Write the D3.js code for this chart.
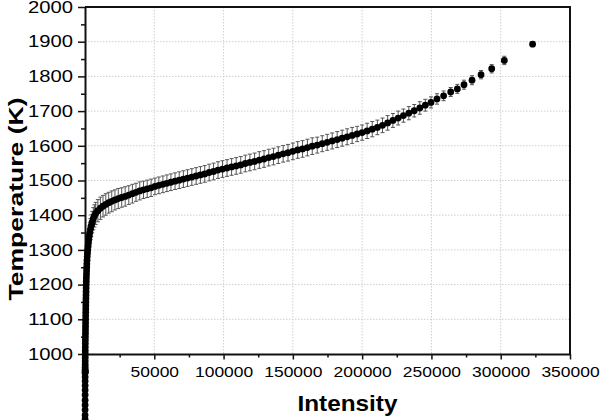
<!DOCTYPE html>
<html lang="en">
<head>
<meta charset="UTF-8">
<title>Temperature vs Intensity</title>
<style>
  body { margin: 0; background: #fff; }
  text { font-family: "Liberation Sans", Arial, sans-serif; fill: #000; }
</style>
</head>
<body>
<script src="https://d3js.org/d3.v7.min.js"></script>
<div id="chart"></div>
<script>

  // values: intensity, temperature (K), error (K)
  const intensity = [
    60, 60, 70, 70, 80, 80, 90, 90, 100, 100, 0, 300, 150, 100, 120, 140, 150, 170,
    180, 190, 200, 230, 260, 290, 320, 350, 380, 410, 440, 480, 520, 560, 600, 640,
    690, 730, 780, 830, 880, 930, 990, 1060, 1140, 1230, 1330, 1450, 1600, 1760, 1950,
    2200, 2450, 2750, 3100, 3500, 3950, 4500, 5200, 6000, 6800,
    7700, 9300, 11100, 13000, 15000, 17100, 19300, 21600, 24000, 26500, 29000, 31600,
    34200, 36800, 39500, 42200, 44900, 47700, 50500, 53300, 56200, 59100, 62000, 65000,
    68000, 71000, 74000, 77100, 80200, 83300, 86400, 89600, 92800, 96000, 99200, 102500,
    105800, 109100, 112400, 115700, 119000, 122400, 125800, 129200, 132600, 136000,
    139500, 143000, 146500, 150000, 153500, 157000, 160500, 164000, 167600, 171200,
    174800, 178400, 182000, 185600, 189200, 192800, 196400, 200000, 203600, 207300,
    211000, 214700, 218400, 222200, 226000, 229800, 233700, 237600, 241600, 245600,
    249700, 254000, 258800, 263900, 268700, 273500, 279300, 285800, 293500, 302600, 323000
  ];
  const temperature = [
    812, 824, 839, 853, 867, 882, 896, 909, 922, 934, 946, 948, 951, 955, 962, 970, 980, 990,
    1000, 1010, 1020, 1030, 1040, 1050, 1060, 1070, 1080, 1090, 1100, 1110, 1120, 1130, 1140, 1150,
    1160, 1170, 1180, 1190, 1200, 1210, 1220, 1230, 1240, 1250, 1260, 1270, 1280, 1290, 1300,
    1310, 1320, 1330, 1340, 1350, 1360, 1370, 1380, 1390, 1398,
    1405, 1413, 1420, 1426, 1431, 1436, 1440, 1444, 1448, 1451, 1454, 1458,
    1462, 1466, 1470, 1473, 1476, 1479, 1483, 1486, 1489, 1492, 1495, 1498,
    1501, 1504, 1507, 1510, 1513, 1516, 1519, 1523, 1526, 1530, 1533, 1536,
    1539, 1542, 1545, 1549, 1552, 1555, 1559, 1562, 1566, 1569,
    1573, 1577, 1580, 1584, 1588, 1591, 1595, 1599, 1602, 1606,
    1610, 1614, 1618, 1622, 1626, 1630, 1634, 1638, 1643, 1648,
    1653, 1659, 1666, 1673, 1680, 1687, 1694, 1701, 1709, 1717,
    1725, 1735, 1744, 1755, 1764, 1776, 1789, 1805, 1822, 1846, 1893
  ];
  const tempError = [
    15, 15, 15, 15, 15, 15, 15, 15, 15, 15, 15, 15, 15, 15, 15, 15, 15, 15,
    16, 16, 17, 17, 17, 18, 18, 18, 19, 19, 19, 20, 20, 20, 21, 21,
    21, 22, 22, 22, 23, 23, 23, 24, 24, 25, 25, 26, 26, 27, 27,
    28, 28, 29, 29, 30, 30, 31, 31, 32, 32,
    32, 32, 32, 31, 31, 30, 30, 29, 29, 28, 28, 27,
    27, 26, 26, 25, 25, 25, 24, 24, 24, 24, 24, 24,
    24, 24, 24, 24, 24, 24, 24, 24, 24, 24, 24, 24,
    24, 24, 24, 24, 24, 24, 24, 24, 24, 24,
    24, 24, 24, 24, 24, 24, 24, 24, 23, 23,
    23, 23, 23, 23, 23, 23, 22, 22, 22, 22,
    21, 21, 21, 20, 20, 19, 19, 18, 18, 17,
    16, 15, 14, 13, 13, 13, 13, 12, 12, 12, 6
  ];

  const xTicks = [50000, 100000, 150000, 200000, 250000, 300000, 350000];
  const xMinorTicks = [25000, 75000, 125000, 175000, 225000, 275000, 325000];
  const yTicks = [1000, 1100, 1200, 1300, 1400, 1500, 1600, 1700, 1800, 1900, 2000];
  const yMinorTicks = [1050, 1150, 1250, 1350, 1450, 1550, 1650, 1750, 1850, 1950];

  const xTitle = "Intensity";
  const yTitle = "Temperature (K)";

  function translate(x, y) { return 'translate(' + x + ',' + y + ')'; }

  let width = 600, height = 420;
  let plot = { left: 85, right: 570, top: 7, bottom: 354 };

  let svg = d3.select("#chart")
    .append("svg")
      .attr("width", width)
      .attr("height", height);

  let x = d3.scaleLinear()
    .domain([0, 350000])
    .range([plot.left, plot.right]);

  let y = d3.scaleLinear()
    .domain([1000, 2000])
    .range([plot.bottom, plot.top]);

  // dotted grid
  let grid = svg.append("g")
    .attr("stroke", "#cfcfcf")
    .attr("stroke-width", 1)
    .style("stroke-dasharray", "1.5,1.5");

  grid.selectAll("line.gx")
    .data(xTicks.filter(d => d < 350000))
    .enter().append("line")
      .attr("x1", d => x(d)).attr("x2", d => x(d))
      .attr("y1", plot.top).attr("y2", plot.bottom);

  grid.selectAll("line.gy")
    .data(yTicks.filter(d => d > 1000 && d < 2000))
    .enter().append("line")
      .attr("x1", plot.left).attr("x2", plot.right)
      .attr("y1", d => y(d)).attr("y2", d => y(d));

  // frame top / right
  svg.append("path")
    .attr("d", "M" + plot.left + "," + plot.top + "H" + plot.right + "V" + plot.bottom)
    .attr("fill", "none")
    .attr("stroke", "#111")
    .attr("stroke-width", 2);

  // minor ticks
  svg.append("g")
    .attr("transform", translate(0, plot.bottom))
    .call(d3.axisBottom(x).tickValues(xMinorTicks).tickSize(3.5).tickSizeOuter(0).tickFormat(""))
    .call(g => g.select(".domain").remove())
    .selectAll("line").attr("stroke", "#111").attr("stroke-width", 1.5);

  svg.append("g")
    .attr("transform", translate(plot.left, 0))
    .call(d3.axisLeft(y).tickValues(yMinorTicks).tickSize(4).tickSizeOuter(0).tickFormat(""))
    .call(g => g.select(".domain").remove())
    .selectAll("line").attr("stroke", "#111").attr("stroke-width", 1.5);

  // major axes
  let xAxis = svg.append("g")
    .attr("transform", translate(0, plot.bottom))
    .call(d3.axisBottom(x).tickValues(xTicks).tickSize(5.5).tickSizeOuter(0).tickPadding(7)
      .tickFormat(d3.format("d")));

  xAxis.select(".domain").attr("stroke", "#111").attr("stroke-width", 2);
  xAxis.selectAll("line").attr("stroke", "#111").attr("stroke-width", 1.5);
  xAxis.selectAll("text")
    .style("font-size", "15px")
    .attr("fill", "#000")
    .attr("textLength", d => String(d).length * 9.7)
    .attr("lengthAdjust", "spacingAndGlyphs");

  let yAxis = svg.append("g")
    .attr("transform", translate(plot.left, 0))
    .call(d3.axisLeft(y).tickValues(yTicks).tickSize(7).tickSizeOuter(0).tickPadding(5)
      .tickFormat(d3.format("d")));

  yAxis.select(".domain").attr("stroke", "#111").attr("stroke-width", 2);
  yAxis.selectAll("line").attr("stroke", "#111").attr("stroke-width", 1.5);
  yAxis.selectAll("text")
    .style("font-size", "16.5px")
    .attr("fill", "#000")
    .attr("textLength", 45)
    .attr("lengthAdjust", "spacingAndGlyphs");

  // axis titles
  svg.append("text")
    .attr("x", 347.5)
    .attr("y", 411)
    .attr("text-anchor", "middle")
    .style("font-size", "22px")
    .style("font-weight", "bold")
    .attr("textLength", 100)
    .attr("lengthAdjust", "spacingAndGlyphs")
    .text(xTitle);

  svg.append("text")
    .attr("transform", translate(23, 199) + " rotate(-90)")
    .attr("text-anchor", "middle")
    .style("font-size", "21px")
    .style("font-weight", "bold")
    .attr("textLength", 203)
    .attr("lengthAdjust", "spacingAndGlyphs")
    .text(yTitle);

  // points with error bars
  let data = intensity.map((d, i) => ({ i: d, t: temperature[i], e: tempError[i] }));

  let bars = svg.append("g")
    .attr("stroke", "#555")
    .attr("stroke-width", 1)
    .attr("fill", "none");

  data.forEach(d => {
    let cx = x(d.i), top = y(d.t + d.e), bot = y(d.t - d.e);
    bars.append("line").attr("x1", cx).attr("x2", cx).attr("y1", top).attr("y2", bot);
    bars.append("line").attr("x1", cx - 2).attr("x2", cx + 2).attr("y1", top).attr("y2", top);
    bars.append("line").attr("x1", cx - 2).attr("x2", cx + 2).attr("y1", bot).attr("y2", bot);
  });

  svg.append("g")
    .selectAll("circle")
    .data(data)
    .enter().append("circle")
      .attr("cx", d => x(d.i))
      .attr("cy", d => y(d.t))
      .attr("r", 3.4)
      .attr("fill", "#000");

</script>
</body>
</html>
